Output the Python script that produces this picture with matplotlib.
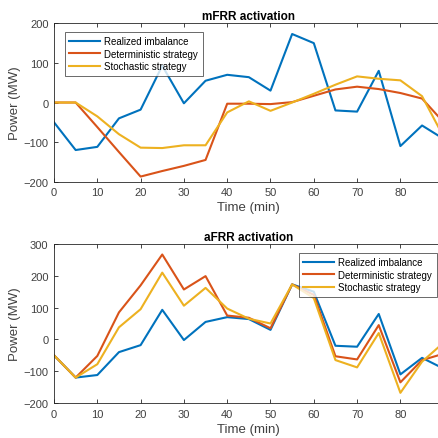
import matplotlib.pyplot as plt
import numpy as np

plt.rcParams['font.family'] = ['Liberation Sans', 'DejaVu Sans']

# time axis (min)
t = [0, 5, 10, 15, 20, 25, 30, 35, 40, 45, 50, 55, 60, 65, 70, 75, 80, 85, 90]

# realized imbalance (same in both panels)
imbalance = [-50, -120, -112, -40, -18, 93, -2, 55, 70, 64, 30, 173, 150, -20, -23, 80, -110, -58, -92]

# mFRR activation
mfrr_det = [0, 0, -62, -125, -187, -173, -160, -145, -3, -3, -4, 1, 17, 33, 40, 34, 24, 10, -50]
mfrr_sto = [0, 0, -35, -80, -114, -115, -108, -108, -25, 3, -21, 0, 22, 45, 66, 60, 56, 16, -87]

# aFRR activation
afrr_det = [-50, -120, -52, 85, 170, 267, 157, 199, 75, 68, 35, 173, 140, -53, -63, 45, -135, -65, -45]
afrr_sto = [-50, -120, -78, 38, 95, 210, 106, 162, 97, 65, 50, 173, 130, -65, -88, 20, -168, -70, -10]

labels = ['Realized imbalance', 'Deterministic strategy', 'Stochastic strategy']
c_blue = '#0072BD'
c_red = '#D95319'
c_yel = '#EDB120'
gray = '#262626'

fig = plt.figure(figsize=(4.38, 4.39), dpi=100)
ax1 = fig.add_axes([0.1233, 0.5838, 0.8897, 0.3608])
ax2 = fig.add_axes([0.1233, 0.0797, 0.8897, 0.3622])

def style(ax):
	for s in ax.spines.values():
		s.set_color(gray)
		s.set_linewidth(0.6)
	ax.tick_params(direction='in', top=True, right=True, length=3, width=0.6,
		colors=gray, labelsize=8, labelcolor='#404040', pad=4)
	ax.set_xlim(0, 90)
	ax.set_xticks(np.arange(0, 90, 10))

def add_legend(ax, x, y):
	leg = ax.legend(loc='upper left', bbox_to_anchor=(x/438, 1-y/439), bbox_transform=fig.transFigure,
		fontsize=7, frameon=True, fancybox=False, borderaxespad=0, handlelength=3.2,
		borderpad=0.45, labelspacing=0.25, handletextpad=0.4)
	leg.get_frame().set_edgecolor(gray)
	leg.get_frame().set_linewidth(0.6)

ax1.plot(t, imbalance, color=c_blue, lw=1.5, label=labels[0])
ax1.plot(t, mfrr_det, color=c_red, lw=1.5, label=labels[1])
ax1.plot(t, mfrr_sto, color=c_yel, lw=1.5, label=labels[2])
style(ax1)
ax1.set_ylim(-200, 200)
ax1.set_yticks([-200, -100, 0, 100, 200])
ax1.set_title('mFRR activation', fontsize=8.5, fontweight='bold', pad=3)
ax1.set_xlabel('Time (min)', fontsize=9.5, color='#404040', labelpad=3)
ax1.set_ylabel('Power (MW)', fontsize=9.5, color='#404040', labelpad=2)
add_legend(ax1, 65, 33)

ax2.plot(t, imbalance, color=c_blue, lw=1.5, label=labels[0])
ax2.plot(t, afrr_det, color=c_red, lw=1.5, label=labels[1])
ax2.plot(t, afrr_sto, color=c_yel, lw=1.5, label=labels[2])
style(ax2)
ax2.set_ylim(-200, 300)
ax2.set_yticks([-200, -100, 0, 100, 200, 300])
ax2.set_title('aFRR activation', fontsize=8.5, fontweight='bold', pad=3)
ax2.set_xlabel('Time (min)', fontsize=9.5, color='#404040', labelpad=3)
ax2.set_ylabel('Power (MW)', fontsize=9.5, color='#404040', labelpad=2)
add_legend(ax2, 299, 254)

plt.savefig('out.png', dpi=100)
